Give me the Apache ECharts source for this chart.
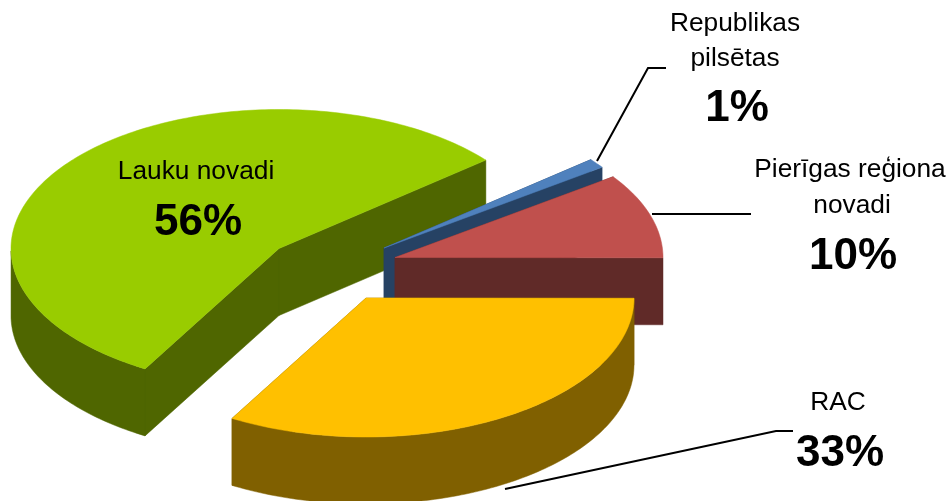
<!DOCTYPE html>
<html>
<head>
<meta charset="utf-8">
<style>html,body{margin:0;padding:0;background:#fff}#c{width:952px;height:501px}</style>
<script src="https://cdn.jsdelivr.net/npm/echarts@6/dist/echarts.min.js"></script>
</head>
<body>
<div id="c"></div>
<script>
var categories = ['Lauku novadi', 'Republikas\npilsētas', 'Pierīgas reģiona\nnovadi', 'RAC'];
var values = [55.7, 1.1, 9.9, 33.3];
var percentLabels = ['56%', '1%', '10%', '33%'];
var topColors = ['#99CC00', '#4F81BD', '#C0504D', '#FFC000'];
var wallColors = ['#4F6600', '#264264', '#602A28', '#806000'];

// Layout of the exploded 3D pie
var centers = [[279, 248.5], [384, 248], [395, 257.5], [366, 298]];
var RX = 268, RY = 139, DEPTH = 67, START = 240;
var labelX = [[196], [735, 735], [850, 852], [838]];
var labelY = [[172], [24, 59], [170, 206], [403]];
var pctPos = [[198, 223], [737, 109], [853, 257], [840, 454]];
var leaders = [
  null,
  [[597, 161], [648, 68], [666, 68]],
  [[652, 214], [751, 214]],
  [[505, 489], [776, 431], [793, 431]]
];

var total = values.reduce(function (a, b) { return a + b; }, 0);

function renderSlice(params, api) {
  var i = api.value(0), before = 0;
  for (var k = 0; k < i; k++) before += values[k];
  var a0 = START - before / total * 360;
  var a1 = a0 - api.value(1) / total * 360;
  var c = centers[i];
  function pt(t, drop) {
    var r = t * Math.PI / 180;
    return api.coord([c[0] + RX * Math.cos(r), c[1] - RY * Math.sin(r) + (drop || 0)]);
  }
  function apex(drop) { return api.coord([c[0], c[1] + (drop || 0)]); }
  function poly(points, fill) {
    return { type: 'polygon', shape: { points: points }, style: { fill: fill, stroke: fill, lineWidth: 0.5 }, silent: true };
  }
  var angles = [];
  for (var u = a0; u > a1; u -= 1) angles.push(u);
  angles.push(a1);

  var children = [];
  var wall = wallColors[i];
  // cut faces
  [a0, a1].forEach(function (t) {
    children.push(poly([apex(), pt(t), pt(t, DEPTH), apex(DEPTH)], wall));
  });
  // outer rim: only the part of the arc facing the viewer
  var rimTop = [], rimBottom = [];
  angles.forEach(function (t) {
    if (Math.sin(t * Math.PI / 180) <= 0) { rimTop.push(pt(t)); rimBottom.unshift(pt(t, DEPTH)); }
  });
  if (rimTop.length > 1) children.push(poly(rimTop.concat(rimBottom), wall));
  // top face
  var face = [apex()].concat(angles.map(function (t) { return pt(t); }));
  children.push(poly(face, topColors[i]));
  return { type: 'group', children: children };
}

function renderLabel(params, api) {
  var i = api.value(0), children = [];
  if (leaders[i]) {
    children.push({
      type: 'polyline',
      shape: { points: leaders[i].map(function (p) { return api.coord(p); }) },
      style: { stroke: '#000', lineWidth: 2, fill: null },
      silent: true
    });
  }
  categories[i].split('\n').forEach(function (line, n) {
    var p = api.coord([labelX[i][n], labelY[i][n]]);
    children.push({
      type: 'text', silent: true,
      style: { text: line, x: p[0], y: p[1], fill: '#000', align: 'center', verticalAlign: 'middle',
               font: '26.3px "Liberation Sans", Arial, sans-serif' }
    });
  });
  var q = api.coord(pctPos[i]);
  children.push({
    type: 'text', silent: true,
    style: { text: percentLabels[i], x: q[0], y: q[1], fill: '#000', align: 'center', verticalAlign: 'middle',
             font: 'bold 44px "Liberation Sans", Arial, sans-serif' }
  });
  return { type: 'group', children: children };
}

var chart = echarts.init(document.getElementById('c'), null, { renderer: 'canvas' });
var rows = values.map(function (v, i) { return [i, v]; });
chart.setOption({
  backgroundColor: '#fff',
  animation: false,
  tooltip: { show: false },
  grid: { left: 0, right: 0, top: 0, bottom: 0 },
  xAxis: { type: 'value', min: 0, max: 952, show: false },
  yAxis: { type: 'value', min: 0, max: 501, inverse: true, show: false },
  series: [
    { type: 'custom', name: 'slices', coordinateSystem: 'cartesian2d', clip: false, renderItem: renderSlice, data: rows, z: 2 },
    { type: 'custom', name: 'labels', coordinateSystem: 'cartesian2d', clip: false, renderItem: renderLabel, data: rows, z: 3 }
  ]
});
</script>
</body>
</html>
